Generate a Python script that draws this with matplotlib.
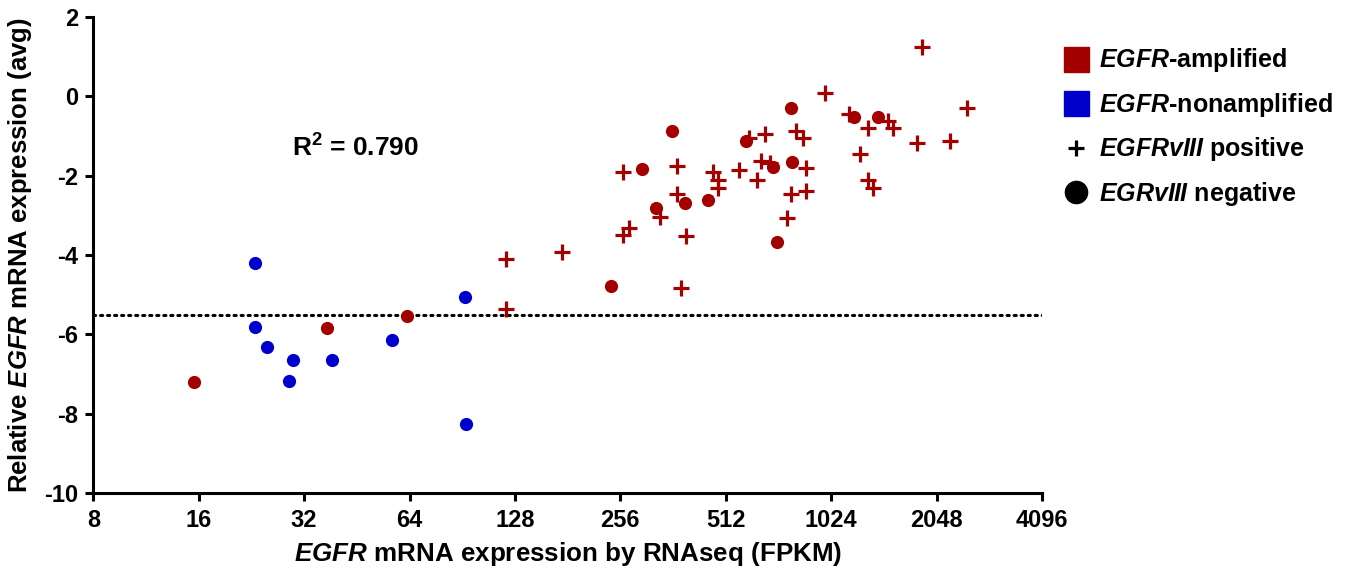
import matplotlib
matplotlib.use("Agg")
import matplotlib.pyplot as plt
from matplotlib.lines import Line2D

# EGFR-nonamplified, EGFRvIII negative (blue circles)
blue_x = [23.1, 23.2, 25.1, 29.7, 28.9, 38.4, 57.0, 92.2, 92.5]
blue_y = [-4.21, -5.82, -6.32, -6.64, -7.18, -6.64, -6.13, -5.05, -8.26]

# EGFR-amplified, EGFRvIII negative (red circles)
red_neg_x = [15.5, 37.1, 63.1, 240.9, 295.8, 358.8, 323, 391, 456.6, 585,
             697.5, 790, 718.5, 785, 1190, 1397]
red_neg_y = [-7.21, -5.85, -5.53, -4.78, -1.84, -0.87, -2.81, -2.70, -2.61, -1.13,
             -1.79, -1.65, -3.67, -0.31, -0.52, -0.52]

# EGFR-amplified, EGFRvIII positive (red plus)
red_pos_x = [120.7, 121, 174.2, 260, 260, 271.6, 332.6, 372.6, 372, 395,
             381, 472, 487, 488, 557.7, 598, 663, 628, 646, 685,
             813, 853, 868, 868, 785, 768, 986, 1154, 1308, 1492,
             1535, 1238, 1308, 1351, 1798, 1858, 2238, 2498]
red_pos_y = [-4.09, -5.36, -3.92, -1.92, -3.50, -3.33, -3.04, -1.75, -2.47, -3.52,
             -4.83, -1.92, -2.11, -2.31, -1.87, -1.06, -0.96, -2.10, -1.63, -1.68,
             -0.88, -1.06, -1.82, -2.38, -2.47, -3.08, 0.09, -0.46, -0.81, -0.63,
             -0.81, -1.46, -2.10, -2.31, -1.19, 1.24, -1.12, -0.29]

threshold = -5.5
r2_text = "R$^2$ = 0.790"
xticks = [8, 16, 32, 64, 128, 256, 512, 1024, 2048, 4096]
yticks = [-10, -8, -6, -4, -2, 0, 2]

RED = "#a30000"
BLUE = "#0000cc"

plt.rcParams['font.family'] = ['Liberation Sans', 'DejaVu Sans']
plt.rcParams['font.weight'] = 'bold'
plt.rcParams['axes.labelweight'] = 'bold'
plt.rcParams['axes.unicode_minus'] = False
plt.rcParams['mathtext.fontset'] = 'custom'
plt.rcParams['mathtext.rm'] = 'Liberation Sans:bold'
plt.rcParams['mathtext.it'] = 'Liberation Sans:italic:bold'
plt.rcParams['mathtext.bf'] = 'Liberation Sans:bold'

fig = plt.figure(figsize=(13.57, 5.76), dpi=100)
ax = fig.add_axes([0.0688, 0.1436, 0.699, 0.8274])

ax.axhline(threshold, color='black', lw=2.2, linestyle=(0, (0.7, 1.6)),
           dash_capstyle='round', zorder=1)
ax.plot(blue_x, blue_y, 'o', color=BLUE, ms=9.5, mew=0, zorder=3)
ax.plot(red_neg_x, red_neg_y, 'o', color=RED, ms=9.5, mew=0, zorder=3)
ax.plot(red_pos_x, red_pos_y, '+', color=RED, ms=12, mew=2.3, zorder=2)

ax.set_xscale('log', base=2)
ax.set_xlim(8, 4096)
ax.set_ylim(-10, 2)
ax.set_xticks(xticks)
ax.set_xticklabels([str(t) for t in xticks])
ax.set_yticks(yticks)
ax.set_yticklabels([str(t) for t in yticks])
ax.xaxis.set_minor_locator(matplotlib.ticker.NullLocator())

for s in ['top', 'right']:
    ax.spines[s].set_visible(False)
for s in ['left', 'bottom']:
    ax.spines[s].set_linewidth(2.2)
ax.tick_params(direction='out', length=6, width=2.2, labelsize=17, pad=5)

ax.set_xlabel("$\\it{EGFR}$ mRNA expression by RNAseq (FPKM)", fontsize=18.7, labelpad=6)
ax.set_ylabel("Relative $\\it{EGFR}$ mRNA expression (avg)", fontsize=18.5, labelpad=7)

ax.text(0.209, 0.725, r2_text, transform=ax.transAxes, fontsize=19,
        va='center', ha='left')

handles = [
    Line2D([], [], marker='s', color=RED, ls='none', ms=18),
    Line2D([], [], marker='s', color=BLUE, ls='none', ms=18),
    Line2D([], [], marker='+', color='black', ls='none', ms=12, mew=2.3),
    Line2D([], [], marker='o', color='black', ls='none', ms=16),
]
labels = ["$\\it{EGFR}$-amplified", "$\\it{EGFR}$-nonamplified",
          "$\\it{EGFRvIII}$ positive", "$\\it{EGRvIII}$ negative"]
fig.legend(handles, labels, loc='upper left', bbox_to_anchor=(0.776, 0.937),
           frameon=False, fontsize=18, handletextpad=0.45, labelspacing=0.66,
           handlelength=1.0, borderaxespad=0)

fig.savefig("out.png", dpi=100)
